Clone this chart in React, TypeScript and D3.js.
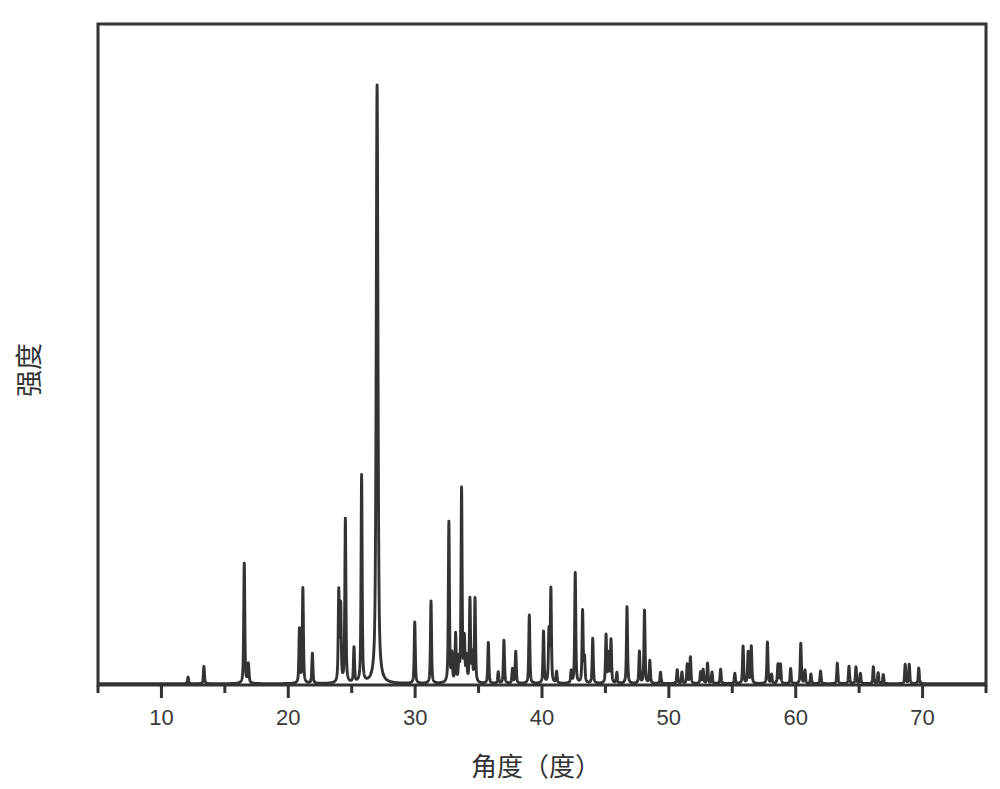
import React from "react";
import * as d3 from "d3";

// Peak table (2θ in degrees, intensity in arbitrary units)
const peakPos = [
  12.1, 13.35, 16.53, 16.85, 20.88, 21.15, 21.9, 23.98, 24.13, 24.5, 25.18, 25.78,
  27.0, 29.97, 31.25, 32.66, 32.9, 33.19, 33.45, 33.66, 33.88, 34.05, 34.32,
  34.5, 34.72, 35.77, 36.55, 37.0, 37.67, 37.93, 39.0, 40.12, 40.55, 40.7, 41.15,
  42.3, 42.62, 43.2, 43.35, 44.0, 45.05, 45.25, 45.44, 45.9, 46.7, 47.68, 48.08,
  48.5, 49.34, 50.66, 51.03, 51.45, 51.7, 52.5, 52.7, 53.05, 53.4, 54.08, 55.2,
  55.85, 56.25, 56.5, 57.77, 58.1, 58.6, 58.8, 59.6, 60.4, 60.73, 61.2, 61.96,
  63.28, 64.2, 64.75, 65.1, 66.12, 66.5, 66.9, 68.63, 68.95, 69.7,
];
const peakHeight = [
  11, 29, 200, 32, 90, 158, 50, 150, 125, 272, 58, 345,
  996, 102, 137, 268, 45, 80, 35, 322, 70, 40, 138,
  45, 140, 68, 19, 72, 24, 53, 114, 86, 85, 155, 19,
  20, 184, 120, 40, 75, 80, 48, 72, 18, 128, 53, 122,
  38, 19, 23, 19, 32, 44, 19, 23, 34, 19, 24, 17,
  62, 52, 62, 69, 15, 32, 32, 25, 67, 22, 16, 21,
  34, 29, 28, 17, 28, 18, 15, 32, 32, 26,
];
const peakWidth = [
  0.1, 0.1, 0.1, 0.12, 0.1, 0.1, 0.1, 0.1, 0.1, 0.1, 0.1, 0.1,
  0.16, 0.1, 0.1, 0.1, 0.1, 0.1, 0.1, 0.1, 0.1, 0.1, 0.1,
  0.1, 0.1, 0.1, 0.1, 0.1, 0.1, 0.1, 0.1, 0.1, 0.1, 0.1, 0.1,
  0.1, 0.1, 0.1, 0.1, 0.1, 0.1, 0.1, 0.1, 0.1, 0.1, 0.1, 0.1,
  0.1, 0.1, 0.1, 0.1, 0.1, 0.1, 0.1, 0.1, 0.1, 0.1, 0.1, 0.1,
  0.1, 0.1, 0.1, 0.1, 0.1, 0.1, 0.1, 0.1, 0.1, 0.1, 0.1, 0.1,
  0.1, 0.1, 0.1, 0.1, 0.1, 0.1, 0.1, 0.1, 0.1, 0.1,
];
const background = 2;

const xMajorTicks = [10, 20, 30, 40, 50, 60, 70];
const xMinorTicks = [5, 15, 25, 35, 45, 55, 65, 75];
const xDomain: [number, number] = [5, 75];
const yDomain: [number, number] = [0, 1100];

const xLabel = "角度（度）";
const yLabel = "强度";

const W = 1000;
const H = 789;
const left = 98;
const right = 986;
const top = 24;
const bottom = 685;

export default function App() {
  const x = d3.scaleLinear().domain(xDomain).range([left, right]);
  const y = d3.scaleLinear().domain(yDomain).range([bottom, top]);

  const samples: [number, number][] = [];
  for (let i = 0; i <= 7000; i++) {
    const t = xDomain[0] + (i * (xDomain[1] - xDomain[0])) / 7000;
    let v = background;
    for (let k = 0; k < peakPos.length; k++) {
      const hw = peakWidth[k] / 2;
      const d = t - peakPos[k];
      const lor = 1 / (1 + (d * d) / (hw * hw));
      const gau = Math.exp((-Math.LN2 * d * d) / (hw * hw));
      v += peakHeight[k] * (0.6 * lor + 0.4 * gau);
    }
    samples.push([t, v]);
  }
  const line = d3
    .line<[number, number]>()
    .x((d) => x(d[0]))
    .y((d) => y(d[1]));

  const ink = "#333333";

  return (
    <svg
      width={W}
      height={H}
      style={{ position: "absolute", left: 0, top: 0, background: "#fff" }}
    >
      <rect x={0} y={0} width={W} height={H} fill="#fff" />
      <path d={line(samples) || ""} fill="none" stroke="#333" strokeWidth={2.9} strokeLinejoin="round" />
      <rect
        x={left}
        y={top}
        width={right - left}
        height={bottom - top}
        fill="none"
        stroke={ink}
        strokeWidth={3}
      />
      {xMajorTicks.map((t) => (
        <g key={"M" + t}>
          <line x1={x(t)} x2={x(t)} y1={bottom} y2={bottom + 13} stroke={ink} strokeWidth={3} />
          <text
            x={x(t)}
            y={725}
            textAnchor="middle"
            fontFamily="'Liberation Sans', Arial, sans-serif"
            fontSize={22}
            fill="#3a3a3a"
          >
            {t}
          </text>
        </g>
      ))}
      {xMinorTicks.map((t) => (
        <line key={"m" + t} x1={x(t)} x2={x(t)} y1={bottom} y2={bottom + 8} stroke={ink} strokeWidth={3} />
      ))}
      <text
        x={536}
        y={776}
        textAnchor="middle"
        fontFamily="'Noto Sans CJK SC', sans-serif"
        fontSize={26}
        fill="#333"
      >
        {xLabel}
      </text>
      <text
        transform="translate(39,370) rotate(-90)"
        textAnchor="middle"
        fontFamily="'Noto Sans CJK SC', sans-serif"
        fontSize={27}
        fill="#333"
      >
        {yLabel}
      </text>
    </svg>
  );
}
